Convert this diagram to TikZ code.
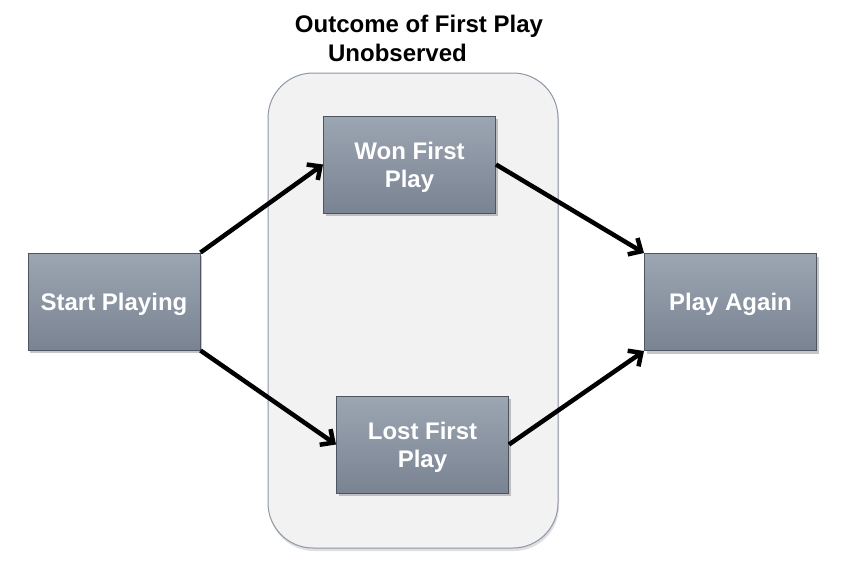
\documentclass[tikz,border=0pt]{standalone}
\usepackage{fontspec}
\setmainfont{Liberation Sans}
\usetikzlibrary{arrows.meta,shadows}
\definecolor{boxtop}{HTML}{9CA5B2}
\definecolor{boxbot}{HTML}{7A8391}
\definecolor{boxline}{HTML}{4E5460}
\definecolor{panefill}{HTML}{F2F2F2}
\definecolor{paneline}{HTML}{8C97A8}
\tikzset{
  state/.style={draw=boxline, line width=1pt, top color=boxtop, bottom color=boxbot,
    minimum width=172pt, minimum height=97pt, align=center, text=white,
    font=\fontsize{24}{28}\selectfont\bfseries, text depth=-9pt,
    drop shadow={shadow xshift=2pt, shadow yshift=-3pt, opacity=0.45}},
  pane/.style={draw=paneline, line width=1pt, fill=panefill, rounded corners=45pt,
    minimum width=290pt, minimum height=475pt,
    drop shadow={shadow xshift=1pt, shadow yshift=-3pt, opacity=0.25}},
  caption/.style={font=\fontsize{24}{28}\selectfont\bfseries},
  move/.style={line width=4.5pt, -{Straight Barb[length=10pt, width=19pt, line width=4.5pt]}}
}
\begin{document}
\begin{tikzpicture}[x=1pt, y=-1pt]
  \useasboundingbox (0,0) rectangle (846,582);
  % shaded area for the hidden result
  \node [pane] (hidden) at (413,310.5) {};
  \node [caption] (title1) at (419,26) {Outcome of First Play};
  \node [caption] (title2) at (397.5,53) {Unobserved};
  % states
  \node [state] (start) at (114,301.5) {Start Playing};
  \node [state] (won) at (409.5,164.5) {Won First\\Play};
  \node [state] (lost) at (422.5,444.5) {Lost First\\Play};
  \node [state] (again) at (730.5,302) {Play Again};
  % moves
  \draw [move] (start.north east) -- (won.west);
  \draw [move] (start.south east) -- (lost.west);
  \draw [move] (won.east) -- (again.north west);
  \draw [move] (lost.east) -- (again.south west);
\end{tikzpicture}
\end{document}
